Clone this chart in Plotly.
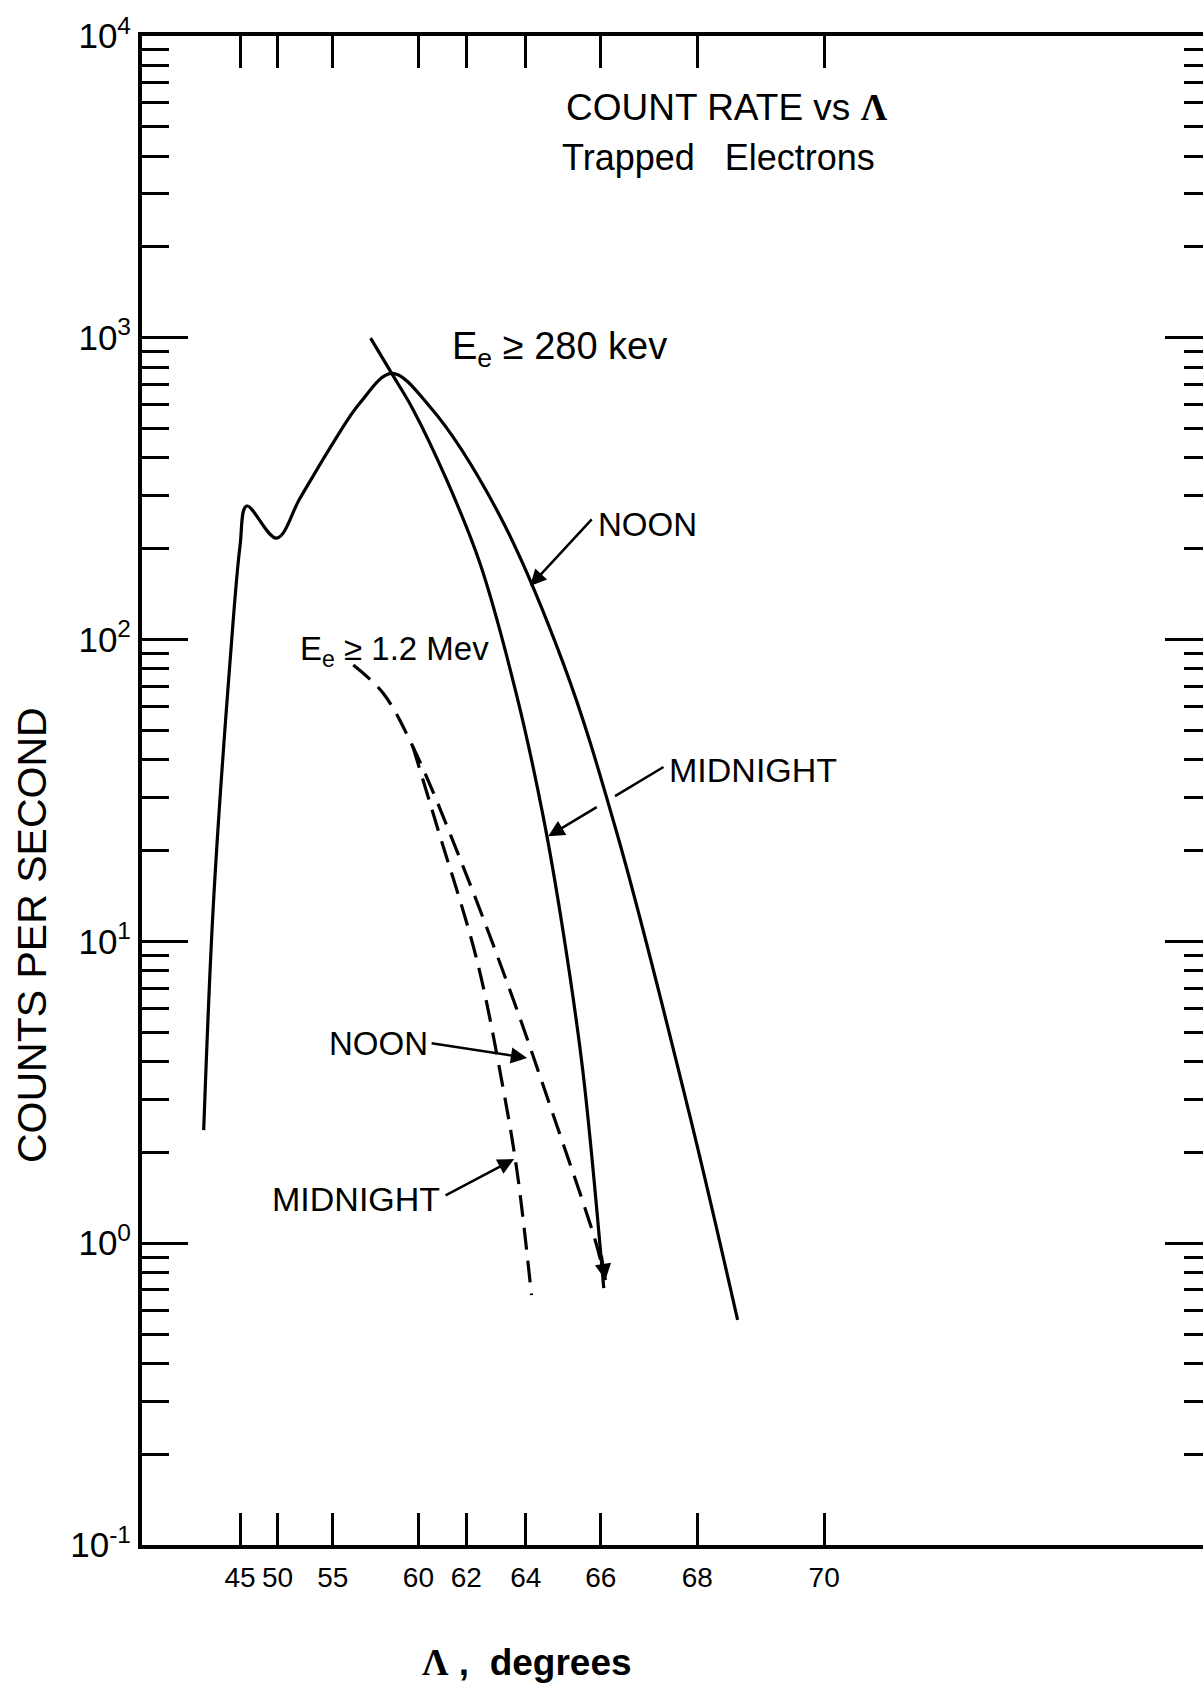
import numpy as np
import plotly.graph_objects as go

# ---------------- data ----------------
# invariant latitude Lambda (degrees) and counts per second
noon_280_lat = [37.6, 39.94, 43.30, 45.0, 46.03, 49.9, 52.29, 55.02, 56.85, 58.68,
                60.52, 63.08, 65.06, 66.37, 67.86, 68.70]
noon_280_cps = [2.37, 13.2, 84.3, 204, 277, 217, 294, 448, 608, 762,
                591, 269, 83.4, 22.9, 2.66, 0.557]

midnight_280_lat = [57.5, 58.68, 59.76, 61.23, 62.50, 63.72, 64.51, 65.06, 65.57, 66.07]
midnight_280_cps = [998, 762, 577, 338, 179, 65.5, 25.9, 10.7, 3.66, 0.71]

noon_1200_lat = [56.43, 58.21, 59.74, 61.88, 63.62, 64.77, 65.86, 66.11]
noon_1200_cps = [82.4, 66.5, 44.2, 17.7, 6.4, 2.7, 1.03, 0.755]

midnight_1200_lat = [59.74, 60.81, 62.39, 63.30, 63.74, 64.17]
midnight_1200_cps = [44.2, 24.3, 8.67, 3.22, 1.71, 0.673]

x_tick_lat = [45, 50, 55, 60, 62, 64, 66, 68, 70]
y_decades = [-1, 0, 1, 2, 3, 4]
y_tick_text = ["10<sup>-1</sup>", "10<sup>0</sup>", "10<sup>1</sup>", "10<sup>2</sup>", "10<sup>3</sup>", "10<sup>4</sup>"]

# ---------------- helpers ----------------
def Lval(lat):
    """The abscissa is linear in L = 1/cos^2(Lambda)."""
    lat = np.asarray(lat, dtype=float)
    return 1.0 / np.cos(np.radians(lat)) ** 2

FIG_W, FIG_H = 1203, 1685
ML, MR, MT, MB = 142, 0, 36, 140
PW, PH = FIG_W - ML - MR, FIG_H - MT - MB

def px(xp, yp):
    return (xp - ML) / PW, (FIG_H - MB - yp) / PH

FONT = "Liberation Sans"
BLACK = "black"
LAM = '<span style="font-family:Liberation Serif"><b>Λ</b></span>'

major_vals = [10.0 ** k for k in y_decades]
minor_vals = [m * 10.0 ** k for k in y_decades[:-1] for m in range(2, 10)]

fig = go.Figure()

solid = dict(color=BLACK, width=3.2, shape="spline", smoothing=1.0)
dashed = dict(color=BLACK, width=3.2, shape="spline", smoothing=1.0, dash="22px,11px")

fig.add_trace(go.Scatter(x=Lval(noon_280_lat), y=noon_280_cps, mode="lines", line=solid, name="Noon 280 keV"))
fig.add_trace(go.Scatter(x=Lval(midnight_280_lat), y=midnight_280_cps, mode="lines", line=solid, name="Midnight 280 keV"))
fig.add_trace(go.Scatter(x=Lval(noon_1200_lat), y=noon_1200_cps, mode="lines", line=dashed, name="Noon 1.2 MeV"))
fig.add_trace(go.Scatter(x=Lval(midnight_1200_lat), y=midnight_1200_cps, mode="lines", line=dashed, name="Midnight 1.2 MeV"))
fig.add_trace(go.Scatter(x=[None], y=[None], yaxis="y2", showlegend=False, hoverinfo="skip"))

L_left = 2.0 - 98.0 / 89.2
L_right = L_left + PW / 89.2

fig.update_layout(
    width=FIG_W, height=FIG_H,
    margin=dict(l=ML, r=MR, t=MT, b=MB),
    paper_bgcolor="white", plot_bgcolor="white",
    showlegend=False,
    font=dict(family=FONT, color=BLACK),
    xaxis=dict(
        range=[L_left, L_right],
        tickvals=Lval(x_tick_lat).tolist(), ticktext=[str(t) for t in x_tick_lat],
        ticks="inside", ticklen=32, tickwidth=2.5, tickcolor=BLACK,
        showline=True, linewidth=4, linecolor=BLACK, mirror="ticks",
        showgrid=False, zeroline=False,
        tickfont=dict(family=FONT, size=28, color=BLACK),
        ticklabelstandoff=4,
    ),
    yaxis=dict(
        type="log", range=[-1, 4],
        tickvals=major_vals, ticktext=y_tick_text,
        ticks="inside", ticklen=46, tickwidth=3, tickcolor=BLACK,
        showline=True, linewidth=4, linecolor=BLACK,
        showgrid=False, zeroline=False,
        tickfont=dict(family=FONT, size=35, color=BLACK),
        ticklabelstandoff=0,
        minor=dict(tickvals=minor_vals, ticks="inside", ticklen=27, tickwidth=2.5, tickcolor=BLACK, showgrid=False),
    ),
    yaxis2=dict(
        type="log", range=[-1, 4], overlaying="y", side="right",
        tickvals=major_vals, showticklabels=False,
        ticks="inside", ticklen=38, tickwidth=3, tickcolor=BLACK,
        showline=False, showgrid=False, zeroline=False,
        minor=dict(tickvals=minor_vals, ticks="inside", ticklen=19, tickwidth=2.5, tickcolor=BLACK, showgrid=False),
    ),
)

def label(text, xp, yp, size, **kw):
    x, y = px(xp, yp)
    fig.add_annotation(x=x, y=y, xref="paper", yref="paper", text=text, showarrow=False,
                       xanchor="center", yanchor="middle",
                       font=dict(family=FONT, size=size, color=BLACK), **kw)

label("COUNT RATE vs " + LAM, 727, 107, 37)
label("Trapped   Electrons", 718, 157, 36)
label("E<sub>e</sub> ≥ 280 kev", 559, 349, 38)
label("NOON", 647, 524, 33)
label("MIDNIGHT", 753, 770, 34)
label("E<sub>e</sub> ≥ 1.2 Mev", 394, 651, 33)
label("NOON", 378, 1043, 33)
label("MIDNIGHT", 356, 1199, 34)
label(LAM + " <b>,  degrees</b>", 527, 1663, 37)
label("COUNTS PER SECOND", 32, 935, 41, textangle=-90)

def arrow(lat, cps, ax, ay, head=2):
    fig.add_annotation(x=float(Lval(lat)), y=float(np.log10(cps)), xref="x", yref="y",
                       ax=ax, ay=ay, axref="pixel", ayref="pixel", text="",
                       showarrow=True, arrowhead=head, arrowsize=1.3, arrowwidth=2.5,
                       arrowcolor=BLACK, standoff=0, startstandoff=0)

arrow(64.13, 150.6, 63, -68)      # NOON 280 keV
arrow(66.33, 30.3, 50, -30, 0)    # MIDNIGHT 280 keV, tail part (gap where it crosses the noon curve)
arrow(64.65, 22.3, 50, -30)       # MIDNIGHT 280 keV, head part
arrow(64.04, 4.11, -97, -15)      # NOON 1.2 MeV
arrow(63.64, 1.90, -70, 37)       # MIDNIGHT 1.2 MeV
arrow(66.11, 0.755, -4, -26)      # end of noon 1.2 MeV curve

fig.write_html("out.html")
